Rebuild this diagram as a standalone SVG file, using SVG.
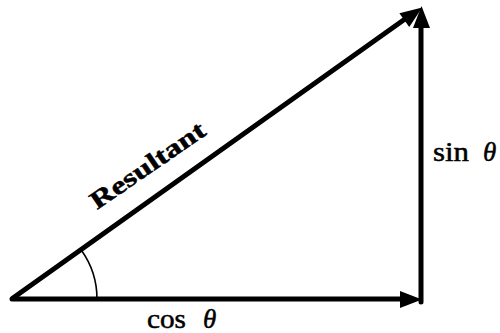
<svg xmlns="http://www.w3.org/2000/svg" width="500" height="333" viewBox="0 0 500 333">
<style>
.vec{fill:none;stroke:#000;stroke-width:5;stroke-linecap:round;marker-end:url(#ah)}
.lbl{font-family:"Liberation Serif","Times New Roman",serif;fill:#000;stroke:#000;stroke-width:0.5}
.th{font-style:italic}
</style>
<defs>
<marker id="ah" markerUnits="userSpaceOnUse" markerWidth="24" markerHeight="18" refX="12" refY="8" orient="auto" overflow="visible">
<path d="M0,0 L22,8.5 L0,17 Z" fill="#000"/>
</marker>
</defs>
<rect width="500" height="333" fill="#fff"/>
<g id="connectors">
<path id="cos-vec" class="vec" d="M12,299 L412,299"/>
<path id="sin-vec" class="vec" d="M421,302 L421,16"/>
<path id="resultant-vec" class="vec" d="M13,298 L413.8,12.8"/>
<path id="angle-arc" d="M97,299 A84,84 0 0 0 81.4,250.3" fill="none" stroke="#000" stroke-width="1.6"/>
</g>
<g id="label-resultant">
<text class="lbl" x="0" y="0" font-size="25" font-weight="bold" stroke-width="0" textLength="134" lengthAdjust="spacingAndGlyphs" transform="translate(97,210) rotate(-34.5)">Resultant</text>
</g>
<g id="label-sin">
<text class="lbl" x="433" y="161" font-size="27" textLength="36" lengthAdjust="spacingAndGlyphs">sin</text>
<text class="lbl th" x="483" y="161" font-size="27">θ</text>
</g>
<g id="label-cos">
<text class="lbl" x="147" y="328" font-size="27" textLength="39" lengthAdjust="spacingAndGlyphs">cos</text>
<text class="lbl th" x="203" y="328" font-size="27">θ</text>
</g>
</svg>
